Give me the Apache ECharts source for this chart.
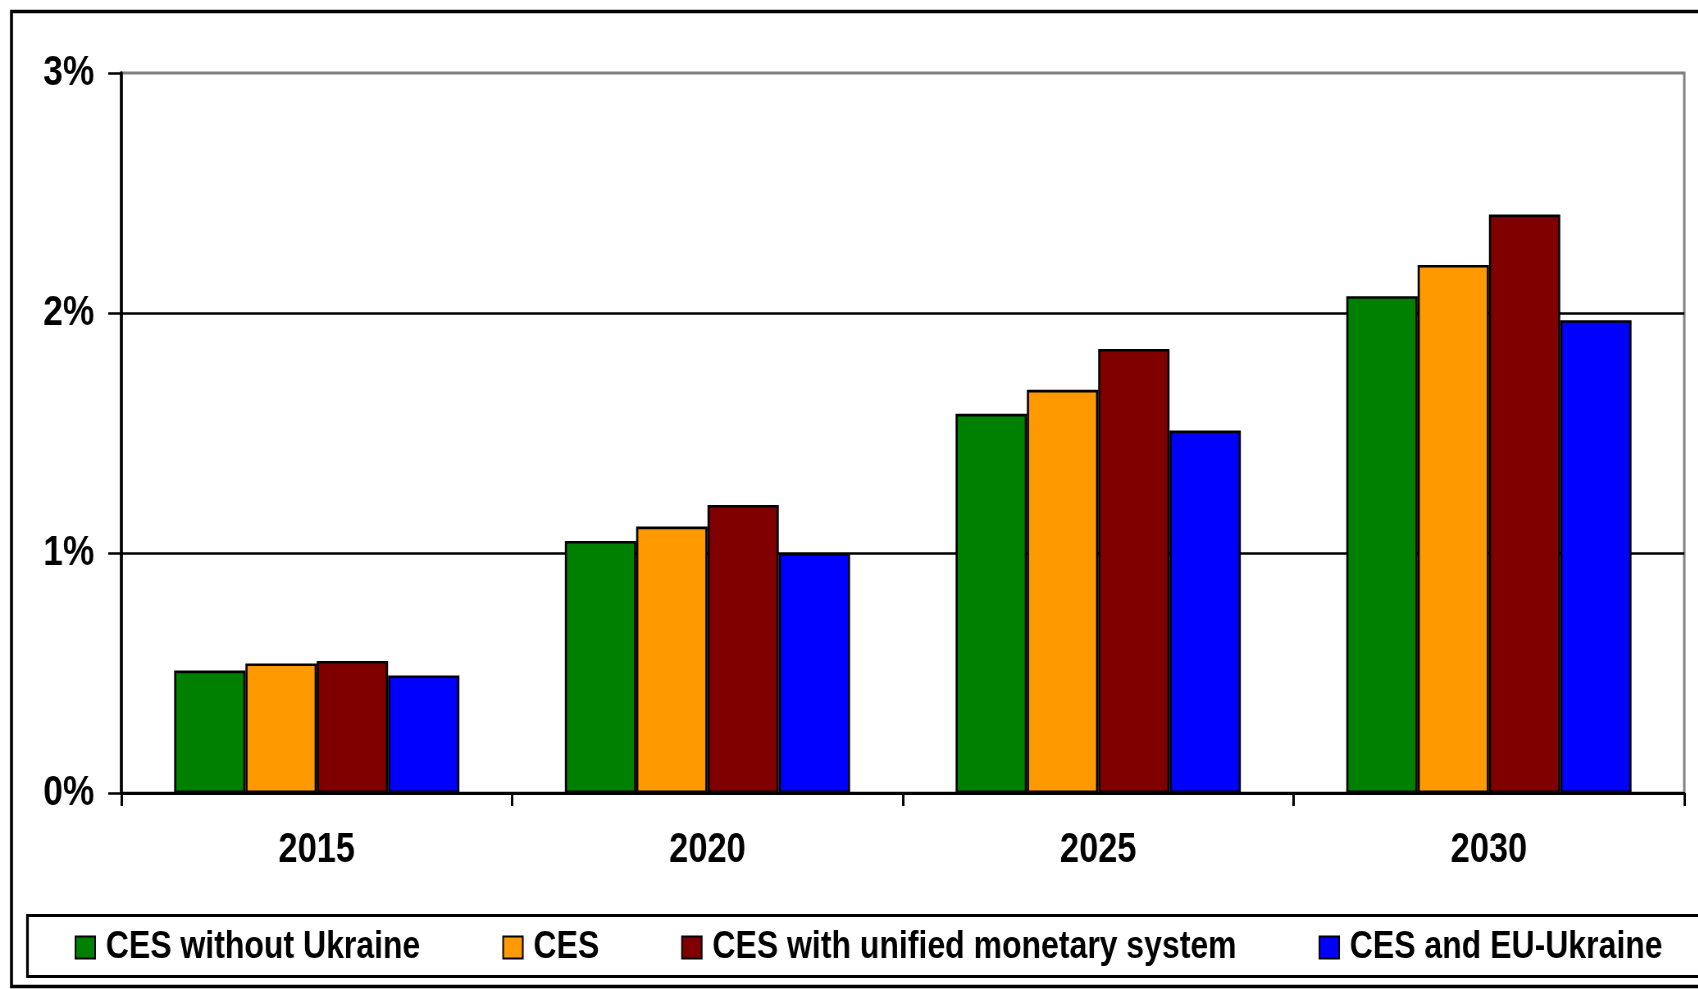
<!DOCTYPE html>
<html>
<head>
<meta charset="utf-8">
<script src="https://cdn.jsdelivr.net/npm/echarts@6/dist/echarts.min.js"></script>
<style>
  html, body { margin: 0; padding: 0; background: #fff; overflow: hidden; }
  /* The chart is laid out on a wider canvas and squeezed horizontally,
     which gives the condensed bold lettering of the original figure. */
  #chart { width: 2071px; height: 989px; transform: scaleX(0.82); transform-origin: 0 0; }
</style>
</head>
<body>
<div id="chart"></div>
<script>
// Categories (years) and the four scenario series, values in percent
const years = ['2015', '2020', '2025', '2030'];
const cesWithoutUkraine = [0.51, 1.05, 1.58, 2.07];
const ces = [0.54, 1.11, 1.68, 2.20];
const cesUnified = [0.55, 1.20, 1.85, 2.41];
const cesEuUkraine = [0.49, 1.00, 1.51, 1.97];
const seriesNames = ['CES without Ukraine', 'CES', 'CES with unified monetary system', 'CES and EU-Ukraine'];
const seriesColors = ['#008000', '#FF9900', '#800000', '#0000FF'];

const FONT = "'Liberation Sans', Arial, sans-serif";

const chart = echarts.init(document.getElementById('chart'), null, { renderer: 'canvas' });

const seriesData = [cesWithoutUkraine, ces, cesUnified, cesEuUkraine];

chart.setOption({
  backgroundColor: '#fff',
  animation: false,
  textStyle: { fontFamily: FONT },
  grid: {
    left: 148, right: 17, top: 73, bottom: 196,
    show: true,
    borderColor: '#808080',
    borderWidth: 3,
    backgroundColor: 'transparent',
    containLabel: false
  },
  legend: {
    left: 91,
    top: 928,
    width: 2000,
    padding: 0,
    itemWidth: 24,
    itemHeight: 22,
    itemGap: 100,
    icon: 'rect',
    textStyle: { fontFamily: FONT, fontSize: 39, fontWeight: 'bold', color: '#000', padding: [0, 0, 0, 8] },
    data: seriesNames
  },
  xAxis: {
    type: 'category',
    data: years,
    boundaryGap: true,
    axisLine: { show: true, lineStyle: { color: '#000', width: 3 } },
    axisTick: { show: true, length: 13, alignWithLabel: false, lineStyle: { color: '#000', width: 3 } },
    axisLabel: { margin: 36, fontFamily: FONT, fontSize: 42, fontWeight: 'bold', color: '#000' },
    splitLine: { show: false }
  },
  yAxis: {
    type: 'value',
    min: 0, max: 3, interval: 1,
    axisLine: { show: true, lineStyle: { color: '#000', width: 3.6 } },
    axisTick: { show: true, length: 16, lineStyle: { color: '#000', width: 2.5 } },
    axisLabel: { margin: 33, formatter: '{value}%', fontFamily: FONT, fontSize: 43, fontWeight: 'bold', color: '#000' },
    splitLine: { show: true, showMaxLine: false, lineStyle: { color: '#000', width: 2.5 } }
  },
  series: seriesNames.map((name, i) => ({
    name: name,
    type: 'bar',
    data: seriesData[i],
    barGap: '0%',
    barCategoryGap: '27%',
    itemStyle: { color: seriesColors[i], borderColor: '#000', borderWidth: 2.6 }
  })),
  graphic: [
    {
      type: 'rect',
      shape: { x: 14, y: 11.5, width: 2200, height: 975 },
      style: { fill: 'none', stroke: '#000', lineWidth: 3.6 },
      silent: true, z: -1
    },
    {
      type: 'rect',
      shape: { x: 33.5, y: 915.5, width: 2200, height: 61 },
      style: { fill: 'none', stroke: '#000', lineWidth: 3.2 },
      silent: true, z: -1
    }
  ]
});
</script>
</body>
</html>
